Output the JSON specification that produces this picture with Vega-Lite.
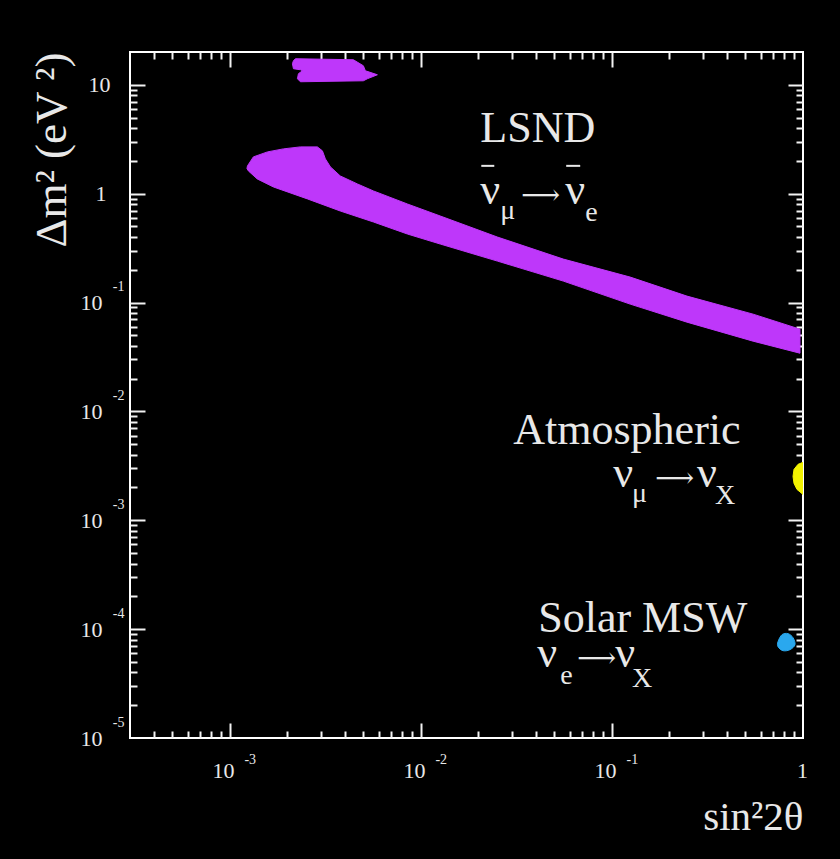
{
  "$schema": "https://vega.github.io/schema/vega-lite/v6.json",
  "width": 673,
  "height": 686,
  "autosize": "none",
  "padding": {"left": 130, "top": 52, "right": 37, "bottom": 121},
  "background": "black",
  "config": {"view": {"stroke": "white", "strokeWidth": 2}},
  "datasets": {
    "band": [
      {"i": 1, "x": 0.001236, "y": 1.799}, {"i": 2, "x": 0.001327, "y": 2.176}, {"i": 3, "x": 0.001574, "y": 2.419},
      {"i": 4, "x": 0.001905, "y": 2.577}, {"i": 5, "x": 0.002339, "y": 2.689}, {"i": 6, "x": 0.002871, "y": 2.689},
      {"i": 7, "x": 0.00305, "y": 2.471}, {"i": 8, "x": 0.003162, "y": 2.085}, {"i": 9, "x": 0.00336, "y": 1.761},
      {"i": 10, "x": 0.00378, "y": 1.455}, {"i": 11, "x": 0.00465, "y": 1.228}, {"i": 12, "x": 0.00564, "y": 1.059},
      {"i": 13, "x": 0.00849, "y": 0.804}, {"i": 14, "x": 0.01262, "y": 0.6233}, {"i": 15, "x": 0.02512, "y": 0.3996},
      {"i": 16, "x": 0.0556, "y": 0.2507}, {"i": 17, "x": 0.1245, "y": 0.1713}, {"i": 18, "x": 0.247, "y": 0.1145},
      {"i": 19, "x": 0.548, "y": 0.0782}, {"i": 20, "x": 0.964, "y": 0.0569}, {"i": 21, "x": 0.964, "y": 0.03423},
      {"i": 22, "x": 0.548, "y": 0.04415}, {"i": 23, "x": 0.247, "y": 0.066}, {"i": 24, "x": 0.1245, "y": 0.0967},
      {"i": 25, "x": 0.0556, "y": 0.1574}, {"i": 26, "x": 0.02512, "y": 0.2403}, {"i": 27, "x": 0.01262, "y": 0.3446},
      {"i": 28, "x": 0.00849, "y": 0.4258}, {"i": 29, "x": 0.00564, "y": 0.5492}, {"i": 30, "x": 0.00378, "y": 0.6931},
      {"i": 31, "x": 0.00255, "y": 0.8937}, {"i": 32, "x": 0.00169, "y": 1.152}, {"i": 33, "x": 0.00139, "y": 1.365},
      {"i": 34, "x": 0.00125, "y": 1.617}, {"i": 35, "x": 0.001228, "y": 1.70}
    ],
    "island": [
      {"i": 1, "x": 0.002151, "y": 16.63}, {"i": 2, "x": 0.002203, "y": 17.35}, {"i": 3, "x": 0.00443, "y": 16.98},
      {"i": 4, "x": 0.004996, "y": 14.95}, {"i": 5, "x": 0.00512, "y": 13.45}, {"i": 6, "x": 0.005916, "y": 12.36},
      {"i": 7, "x": 0.005245, "y": 11.36}, {"i": 8, "x": 0.004996, "y": 10.88}, {"i": 9, "x": 0.002339, "y": 10.66},
      {"i": 10, "x": 0.002258, "y": 11.36}, {"i": 11, "x": 0.002284, "y": 12.63}, {"i": 12, "x": 0.002397, "y": 13.45},
      {"i": 13, "x": 0.002339, "y": 13.74}, {"i": 14, "x": 0.002151, "y": 14.04}, {"i": 15, "x": 0.002125, "y": 15.61}
    ],
    "atm": [
      {"i": 1, "x": 1.0, "y": 0.003402}, {"i": 2, "x": 0.9416, "y": 0.003261}, {"i": 3, "x": 0.8973, "y": 0.002933},
      {"i": 4, "x": 0.8865, "y": 0.002529}, {"i": 5, "x": 0.8973, "y": 0.002181}, {"i": 6, "x": 0.9302, "y": 0.00192},
      {"i": 7, "x": 1.0, "y": 0.001727}
    ],
    "solar": [
      {"i": 1, "x": 0.7399, "y": 0.00007674}, {"i": 2, "x": 0.7766, "y": 0.00008898}, {"i": 3, "x": 0.8347, "y": 0.0000909},
      {"i": 4, "x": 0.8865, "y": 0.0000835}, {"i": 5, "x": 0.9081, "y": 0.000072}, {"i": 6, "x": 0.8551, "y": 0.0000648},
      {"i": 7, "x": 0.786, "y": 0.0000634}, {"i": 8, "x": 0.7399, "y": 0.000069}
    ],
    "big": [
      {"t": "LSND", "x": 0.02045, "y": 2.989},
      {"t": "ν", "x": 0.02045, "y": 0.804},
      {"t": "ν", "x": 0.0569, "y": 0.804},
      {"t": "Atmospheric", "x": 0.03043, "y": 0.00498},
      {"t": "ν", "x": 0.1015, "y": 0.002003},
      {"t": "ν", "x": 0.279, "y": 0.002003},
      {"t": "Solar MSW", "x": 0.04111, "y": 0.0000948},
      {"t": "ν", "x": 0.04062, "y": 0.00004519},
      {"t": "ν", "x": 0.1039, "y": 0.00004519}
    ],
    "arrows": [
      {"t": "⟶", "x": 0.0335, "y": 0.804},
      {"t": "⟶", "x": 0.1683, "y": 0.002003},
      {"t": "⟶", "x": 0.06577, "y": 0.00004519}
    ],
    "subs": [
      {"t": "μ", "x": 0.02602, "y": 0.5853},
      {"t": "e", "x": 0.07243, "y": 0.561},
      {"t": "μ", "x": 0.1275, "y": 0.001458},
      {"t": "X", "x": 0.3465, "y": 0.001398},
      {"t": "e", "x": 0.05358, "y": 0.00003152},
      {"t": "X", "x": 0.1275, "y": 0.00002958}
    ],
    "bars": [
      {"x": 0.0207, "x2": 0.02421, "y": 1.80},
      {"x": 0.0576, "x2": 0.0682, "y": 1.80}
    ]
  },
  "resolve": {"axis": {"x": "independent", "y": "independent"}},
  "layer": [
    {
      "data": {"name": "band"},
      "mark": {"type": "line", "interpolate": "linear-closed", "fill": "#be37fa", "stroke": "#be37fa", "strokeWidth": 1, "clip": true},
      "encoding": {
        "x": {"field": "x", "type": "quantitative", "scale": {"type": "log", "domain": [0.0003, 1], "nice": false},
          "axis": {"orient": "bottom", "values": [0.001, 0.01, 0.1], "offset": -15, "tickSize": 15,
            "labels": false, "domain": false, "grid": false, "title": null, "tickColor": "#f2f2f2", "tickWidth": 2}},
        "y": {"field": "y", "type": "quantitative", "scale": {"type": "log", "domain": [0.00001, 20], "nice": false},
          "axis": {"orient": "left", "values": [0.0001, 0.001, 0.01, 0.1, 1, 10], "offset": -15, "tickSize": 15,
            "labels": false, "domain": false, "grid": false, "title": null, "tickColor": "#f2f2f2", "tickWidth": 2}},
        "order": {"field": "i", "type": "quantitative"}
      }
    },
    {
      "data": {"name": "island"},
      "mark": {"type": "line", "interpolate": "linear-closed", "fill": "#be37fa", "stroke": "#be37fa", "strokeWidth": 1, "clip": true},
      "encoding": {
        "x": {"field": "x", "type": "quantitative", "scale": {"type": "log", "domain": [0.0003, 1], "nice": false},
          "axis": {"orient": "top", "values": [0.001, 0.01, 0.1], "offset": -15, "tickSize": 15,
            "labels": false, "domain": false, "grid": false, "title": null, "tickColor": "#f2f2f2", "tickWidth": 2}},
        "y": {"field": "y", "type": "quantitative", "scale": {"type": "log", "domain": [0.00001, 20], "nice": false},
          "axis": {"orient": "right", "values": [0.0001, 0.001, 0.01, 0.1, 1, 10], "offset": -15, "tickSize": 15,
            "labels": false, "domain": false, "grid": false, "title": null, "tickColor": "#f2f2f2", "tickWidth": 2}},
        "order": {"field": "i", "type": "quantitative"}
      }
    },
    {
      "data": {"name": "atm"},
      "mark": {"type": "line", "interpolate": "linear-closed", "fill": "#f2f200", "stroke": "#f2f200", "strokeWidth": 1, "clip": true},
      "encoding": {
        "x": {"field": "x", "type": "quantitative", "scale": {"type": "log", "domain": [0.0003, 1], "nice": false},
          "axis": {"orient": "bottom", "values": [0.001, 0.01, 0.1, 1], "ticks": false, "domain": false, "grid": false,
            "labelExpr": "datum.value == 1 ? '1' : '10'", "labelFlush": false, "labelOverlap": false,
            "labelFont": "Liberation Serif", "labelFontSize": 22, "labelColor": "#e8e8e8",
            "labelAlign": "center", "labelBaseline": "top", "labelPadding": 22,
            "labelOffset": {"condition": {"test": "datum.value == 1", "value": -1}, "value": -7},
            "title": "sin²2θ", "titleFont": "Liberation Serif", "titleFontSize": 41, "titleFontWeight": "normal",
            "titleColor": "#e8e8e8", "titleAnchor": "end", "titleAlign": "right", "titlePadding": 16}},
        "y": {"field": "y", "type": "quantitative", "scale": {"type": "log", "domain": [0.00001, 20], "nice": false},
          "axis": {"orient": "left", "values": [0.00001, 0.0001, 0.001, 0.01, 0.1, 1, 10], "ticks": false, "domain": false, "grid": false,
            "labelExpr": "datum.value == 1 ? '1' : '10'", "labelFlush": false, "labelOverlap": false,
            "labelFont": "Liberation Serif", "labelFontSize": 22, "labelColor": "#e8e8e8",
            "labelAlign": "right", "labelBaseline": "middle",
            "labelPadding": {"condition": [{"test": "datum.value == 10", "value": 20}, {"test": "datum.value == 1", "value": 24}], "value": 28},
            "title": "Δm² (eV ²)", "titleFont": "Liberation Serif", "titleFontSize": 45, "titleFontWeight": "normal",
            "titleColor": "#e8e8e8", "titleAnchor": "end", "titleAlign": "right", "titlePadding": 6}},
        "order": {"field": "i", "type": "quantitative"}
      }
    },
    {
      "data": {"name": "solar"},
      "mark": {"type": "line", "interpolate": "cardinal-closed", "fill": "#2aa8ee", "stroke": "#2aa8ee", "strokeWidth": 1, "clip": true},
      "encoding": {
        "x": {"field": "x", "type": "quantitative", "scale": {"type": "log", "domain": [0.0003, 1], "nice": false},
          "axis": {"orient": "bottom", "values": [0.001, 0.01, 0.1], "ticks": false, "domain": false, "grid": false,
            "labelExpr": "'' + round(log(datum.value)/LN10)", "labelFlush": false, "labelOverlap": false,
            "labelFont": "Liberation Serif", "labelFontSize": 14, "labelColor": "#e8e8e8",
            "labelAlign": "left", "labelBaseline": "top", "labelPadding": 14, "labelOffset": 14, "title": null}},
        "y": {"field": "y", "type": "quantitative", "scale": {"type": "log", "domain": [0.00001, 20], "nice": false},
          "axis": {"orient": "left", "values": [0.00001, 0.0001, 0.001, 0.01, 0.1], "ticks": false, "domain": false, "grid": false,
            "labelExpr": "'' + round(log(datum.value)/LN10)", "labelFlush": false, "labelOverlap": false,
            "labelFont": "Liberation Serif", "labelFontSize": 14, "labelColor": "#e8e8e8",
            "labelAlign": "right", "labelBaseline": "middle", "labelPadding": 6, "labelOffset": -16, "title": null}},
        "order": {"field": "i", "type": "quantitative"}
      }
    },
    {
      "data": {"name": "big"},
      "mark": {"type": "text", "font": "Liberation Serif", "fontSize": 44, "color": "#e8e8e8", "align": "left", "baseline": "alphabetic"},
      "encoding": {
        "x": {"field": "x", "type": "quantitative", "scale": {"type": "log", "domain": [0.0003, 1], "nice": false},
          "axis": {"orient": "bottom", "values": [0.0004,0.0005,0.0006,0.0007,0.0008,0.0009,0.002,0.003,0.004,0.005,0.006,0.007,0.008,0.009,0.02,0.03,0.04,0.05,0.06,0.07,0.08,0.09,0.2,0.3,0.4,0.5,0.6,0.7,0.8,0.9],
            "offset": -7, "tickSize": 7, "labels": false, "domain": false, "grid": false, "title": null, "tickColor": "#f2f2f2", "tickWidth": 2}},
        "y": {"field": "y", "type": "quantitative", "scale": {"type": "log", "domain": [0.00001, 20], "nice": false},
          "axis": {"orient": "left", "values": [0.00002,0.00003,0.00004,0.00005,0.00006,0.00007,0.00008,0.00009,0.0002,0.0003,0.0004,0.0005,0.0006,0.0007,0.0008,0.0009,0.002,0.003,0.004,0.005,0.006,0.007,0.008,0.009,0.02,0.03,0.04,0.05,0.06,0.07,0.08,0.09,0.2,0.3,0.4,0.5,0.6,0.7,0.8,0.9,2,3,4,5,6,7,8,9],
            "offset": -7, "tickSize": 7, "labels": false, "domain": false, "grid": false, "title": null, "tickColor": "#f2f2f2", "tickWidth": 2}},
        "text": {"field": "t"}
      }
    },
    {
      "data": {"name": "subs"},
      "mark": {"type": "text", "font": "Liberation Serif", "fontSize": 28, "color": "#e8e8e8", "align": "left", "baseline": "alphabetic"},
      "encoding": {
        "x": {"field": "x", "type": "quantitative", "scale": {"type": "log", "domain": [0.0003, 1], "nice": false},
          "axis": {"orient": "top", "values": [0.0004,0.0005,0.0006,0.0007,0.0008,0.0009,0.002,0.003,0.004,0.005,0.006,0.007,0.008,0.009,0.02,0.03,0.04,0.05,0.06,0.07,0.08,0.09,0.2,0.3,0.4,0.5,0.6,0.7,0.8,0.9],
            "offset": -7, "tickSize": 7, "labels": false, "domain": false, "grid": false, "title": null, "tickColor": "#f2f2f2", "tickWidth": 2}},
        "y": {"field": "y", "type": "quantitative", "scale": {"type": "log", "domain": [0.00001, 20], "nice": false},
          "axis": {"orient": "right", "values": [0.00002,0.00003,0.00004,0.00005,0.00006,0.00007,0.00008,0.00009,0.0002,0.0003,0.0004,0.0005,0.0006,0.0007,0.0008,0.0009,0.002,0.003,0.004,0.005,0.006,0.007,0.008,0.009,0.02,0.03,0.04,0.05,0.06,0.07,0.08,0.09,0.2,0.3,0.4,0.5,0.6,0.7,0.8,0.9,2,3,4,5,6,7,8,9],
            "offset": -7, "tickSize": 7, "labels": false, "domain": false, "grid": false, "title": null, "tickColor": "#f2f2f2", "tickWidth": 2}},
        "text": {"field": "t"}
      }
    },
    {
      "data": {"name": "arrows"},
      "mark": {"type": "text", "font": "DejaVu Serif", "fontSize": 27, "color": "#e8e8e8", "align": "left", "baseline": "alphabetic"},
      "encoding": {
        "x": {"field": "x", "type": "quantitative", "scale": {"type": "log", "domain": [0.0003, 1], "nice": false}, "axis": null},
        "y": {"field": "y", "type": "quantitative", "scale": {"type": "log", "domain": [0.00001, 20], "nice": false}, "axis": null},
        "text": {"field": "t"}
      }
    },
    {
      "data": {"name": "bars"},
      "mark": {"type": "rule", "color": "#e8e8e8", "strokeWidth": 2},
      "encoding": {
        "x": {"field": "x", "type": "quantitative", "scale": {"type": "log", "domain": [0.0003, 1], "nice": false}, "axis": null},
        "x2": {"field": "x2"},
        "y": {"field": "y", "type": "quantitative", "scale": {"type": "log", "domain": [0.00001, 20], "nice": false}, "axis": null}
      }
    }
  ]
}
